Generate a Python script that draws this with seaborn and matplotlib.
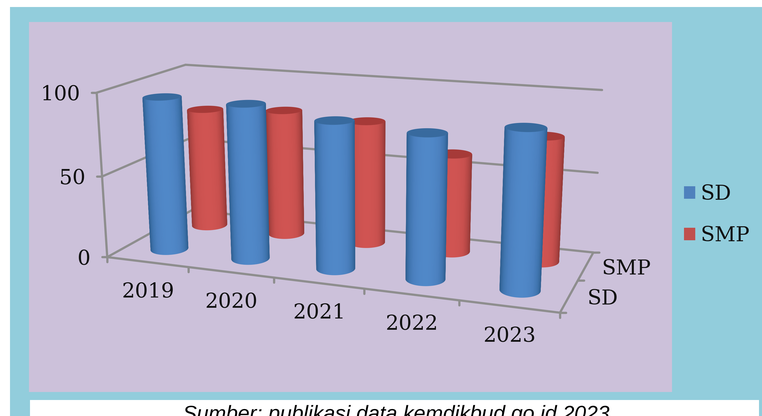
import numpy as np
import pandas as pd
import seaborn as sns
import matplotlib
matplotlib.use("Agg")
import matplotlib.pyplot as plt
from matplotlib.patches import Patch, Polygon, Rectangle
from PIL import Image

# Chart data
years = ["2019", "2020", "2021", "2022", "2023"]
levels = ["SD", "SMP"]
sd_values = [94.5, 94, 88, 85, 92]
smp_values = [77, 80, 77, 61, 76]
value_ticks = [0, 50, 100]

# Colours
PAGE_BLUE = "#92CDDC"
PLOT_LILAC = "#CCC1DA"
GRID_GREY = "#8E8E8E"
BODY_SHADES = {
    "SD": ["#2F5F90", "#3F74AE", "#4B80BF", "#5088C8"],
    "SMP": ["#933937", "#B24644", "#C8504E", "#D05452"],
}
CAP_COLOURS = {"SD": "#386A9E", "SMP": "#A63A38"}
LEGEND_COLOURS = {"SD": "#4F81BD", "SMP": "#C0504D"}

# Camera anchors: box position (category, depth, value) -> canvas position
BOX_POINTS = np.array([
    (0, 0, 0), (5, 0, 0), (5, 2, 0), (0, 2, 0),
    (0, 0, 100), (5, 2, 100), (0, 2, 100),
    (0, 0, 50), (5, 2, 50), (0, 2, 50),
], float)
CANVAS_POINTS = np.array([
    (107, 257), (560, 313), (593, 252), (192, 211),
    (97, 93), (602, 90), (185, 65),
    (102, 176), (598, 173), (189, 138),
], float)


def fit_camera(box, canvas):
    """Least-squares 3x4 perspective camera (direct linear transform)."""
    rows = []
    for (x, y, z), (u, v) in zip(box, canvas):
        rows.append([x, y, z, 1, 0, 0, 0, 0, -u * x, -u * y, -u * z, -u])
        rows.append([0, 0, 0, 0, x, y, z, 1, -v * x, -v * y, -v * z, -v])
    return np.linalg.svd(np.array(rows))[2][-1].reshape(3, 4)


CAMERA = fit_camera(BOX_POINTS, CANVAS_POINTS)


def project(x, y, z):
    """Map box coordinates to canvas coordinates."""
    x, y, z = np.broadcast_arrays(np.asarray(x, float), np.asarray(y, float), np.asarray(z, float))
    pts = np.stack([x, y, z, np.ones_like(x)], axis=-1) @ CAMERA.T
    return pts[..., :2] / pts[..., 2:3]


def box_line(ax, start, end, lw=1.6, zorder=2):
    ends = project(*np.array([start, end]).T)
    ax.plot(ends[:, 0], ends[:, 1], color=GRID_GREY, lw=lw, solid_capstyle="round", zorder=zorder)


def ring(cx, cy, value, theta, rx=0.205, ry=0.22):
    return project(cx + rx * np.cos(theta), cy + ry * np.sin(theta), value)


def draw_cylinder(ax, cx, cy, value, level, zorder):
    full = np.linspace(0, 2 * np.pi, 721)[:-1]
    outline = ring(cx, cy, 0.0, full)

    # Near side of the wall: from the left silhouette through the front to the right one
    theta_left = full[np.argmin(outline[:, 0])]
    theta_right = full[np.argmax(outline[:, 0])]
    if theta_right < theta_left:
        theta_right += 2 * np.pi
    theta = np.linspace(theta_left, theta_right, 49)

    bottom = ring(cx, cy, 0.0, theta)
    top = ring(cx, cy, value, theta)
    mid = (bottom[0, 0] + bottom[-1, 0]) / 2
    half_width = (bottom[-1, 0] - bottom[0, 0]) / 2
    shade = 1 - np.clip(np.abs(bottom[:, 0] - mid) / half_width, 0, 1) ** 2.2

    cmap = sns.blend_palette(BODY_SHADES[level], as_cmap=True)
    ax.pcolormesh(np.stack([bottom[:, 0], top[:, 0]]), np.stack([bottom[:, 1], top[:, 1]]),
                  np.stack([shade, shade]), cmap=cmap, vmin=0, vmax=1,
                  shading="gouraud", zorder=zorder)

    ax.add_patch(Polygon(ring(cx, cy, value, full), closed=True, facecolor=CAP_COLOURS[level],
                         edgecolor="none", zorder=zorder + 0.1))


sns.set_theme(style="white")
SERIF = "DejaVu Serif"
LABEL_SIZE = 14.8

records = pd.DataFrame({
    "year": years * 2,
    "level": np.repeat(levels, len(years)),
    "value": sd_values + smp_values,
})

fig = plt.figure(figsize=(7.62, 4.16), dpi=100, facecolor="white")
ax = fig.add_axes([0, 0, 1, 1])
ax.set_xlim(0, 762)
ax.set_ylim(416, 0)
ax.axis("off")

# Page panels
ax.add_patch(Rectangle((10, 7), 752, 409, facecolor=PAGE_BLUE, edgecolor="none", zorder=0))
ax.add_patch(Rectangle((29, 22), 643, 370, facecolor=PLOT_LILAC, edgecolor="none", zorder=1))
ax.add_patch(Rectangle((30, 400), 729, 16, facecolor="white", edgecolor="none", zorder=1))

# Walls, floor edges and ticks
for v in value_ticks:
    box_line(ax, (0, 0, v), (0, 2, v))
    box_line(ax, (0, 2, v), (5, 2, v))
    tip = project(0, 0, v)
    ax.plot([tip[0] - 5, tip[0]], [tip[1], tip[1]], color=GRID_GREY, lw=1.6, zorder=2)
    ax.annotate(str(v), tip, xytext=(-12, -1.5), textcoords="offset points", ha="right", va="center",
                fontsize=LABEL_SIZE, family=SERIF, color="#111111", zorder=5)
box_line(ax, (0, 0, 0), (0, 0, 100))
box_line(ax, (0, 0, 0), (5, 0, 0), zorder=2)
box_line(ax, (5, 0, 0), (5, 2, 0), zorder=2)

for i in range(len(years) + 1):
    tick = project(i, 0, 0)
    ax.plot([tick[0], tick[0]], [tick[1], tick[1] + 5], color=GRID_GREY, lw=1.6, zorder=2)
for d in range(len(levels) + 1):
    tick = project(5, d, 0)
    ax.plot([tick[0], tick[0] + 6], [tick[1], tick[1]], color=GRID_GREY, lw=1.6, zorder=2)

for i, year in enumerate(years):
    anchor = project(i + 0.5, 0, 0)
    ax.annotate(year, anchor, xytext=(0.5, -21.5), textcoords="offset points", ha="center", va="center",
                fontsize=LABEL_SIZE, family=SERIF, color="#111111", zorder=5)
for d, level in enumerate(levels):
    anchor = project(5, d + 0.5, 0)
    ax.annotate(level, anchor, xytext=(24 + 5 * d, -2), textcoords="offset points", ha="center", va="center",
                fontsize=LABEL_SIZE, family=SERIF, color="#111111", zorder=5)

# Cylinders, back row first so the front row overlaps it
for d, level in reversed(list(enumerate(levels))):
    subset = records[records["level"] == level]
    for i, value in enumerate(subset["value"]):
        draw_cylinder(ax, i + 0.5, d + 0.5, value, level, zorder=3 + (1 - d) + i * 0.01)

# Legend
ax.legend(
    handles=[Patch(facecolor=LEGEND_COLOURS[l], edgecolor="none", label=l) for l in levels],
    loc="upper left", bbox_to_anchor=(684, 184), bbox_transform=ax.transData,
    frameon=False, prop={"family": SERIF, "size": LABEL_SIZE},
    handlelength=0.55, handleheight=0.55, handletextpad=0.25, labelspacing=1.05,
    borderpad=0, borderaxespad=0, labelcolor="#111111",
)

# Source note
ax.text(396, 405, "Sumber: publikasi data kemdikbud.go.id 2023", ha="center", va="top",
        fontsize=15.2, style="italic", family="Liberation Sans", color="black", zorder=5)

# Render oversampled and reduce, so the aliased shaded meshes get clean edges
fig.savefig("out.png", dpi=400, facecolor="white")
Image.open("out.png").convert("RGB").resize((762, 416), Image.LANCZOS).save("out.png")
